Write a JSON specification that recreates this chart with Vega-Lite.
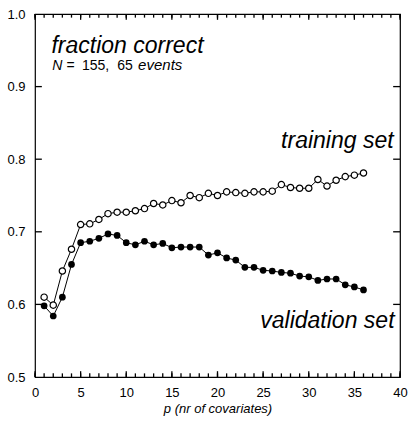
{
  "$schema": "https://vega.github.io/schema/vega-lite/v6.json",
  "width": 365,
  "height": 363,
  "autosize": {"type": "none"},
  "padding": {"left": 35, "top": 14, "right": 9, "bottom": 44},
  "background": "white",
  "config": {
    "view": {"stroke": "black", "strokeWidth": 1.2},
    "font": "Liberation Sans",
    "axis": {"domain": false, "grid": false, "labelFont": "Liberation Sans", "labelFontSize": 13, "labelColor": "black", "titleColor": "black"}
  },
  "datasets": {
    "train": [
      {"p": 1, "v": 0.610}, {"p": 2, "v": 0.599}, {"p": 3, "v": 0.646}, {"p": 4, "v": 0.676},
      {"p": 5, "v": 0.710}, {"p": 6, "v": 0.711}, {"p": 7, "v": 0.717}, {"p": 8, "v": 0.725},
      {"p": 9, "v": 0.727}, {"p": 10, "v": 0.727}, {"p": 11, "v": 0.729}, {"p": 12, "v": 0.732},
      {"p": 13, "v": 0.739}, {"p": 14, "v": 0.737}, {"p": 15, "v": 0.743}, {"p": 16, "v": 0.740},
      {"p": 17, "v": 0.750}, {"p": 18, "v": 0.747}, {"p": 19, "v": 0.753}, {"p": 20, "v": 0.750},
      {"p": 21, "v": 0.755}, {"p": 22, "v": 0.754}, {"p": 23, "v": 0.753}, {"p": 24, "v": 0.755},
      {"p": 25, "v": 0.755}, {"p": 26, "v": 0.756}, {"p": 27, "v": 0.765}, {"p": 28, "v": 0.761},
      {"p": 29, "v": 0.760}, {"p": 30, "v": 0.760}, {"p": 31, "v": 0.772}, {"p": 32, "v": 0.763},
      {"p": 33, "v": 0.771}, {"p": 34, "v": 0.776}, {"p": 35, "v": 0.778}, {"p": 36, "v": 0.781}
    ],
    "valid": [
      {"p": 1, "v": 0.598}, {"p": 2, "v": 0.584}, {"p": 3, "v": 0.610}, {"p": 4, "v": 0.655},
      {"p": 5, "v": 0.685}, {"p": 6, "v": 0.687}, {"p": 7, "v": 0.691}, {"p": 8, "v": 0.697},
      {"p": 9, "v": 0.695}, {"p": 10, "v": 0.685}, {"p": 11, "v": 0.682}, {"p": 12, "v": 0.687},
      {"p": 13, "v": 0.682}, {"p": 14, "v": 0.684}, {"p": 15, "v": 0.678}, {"p": 16, "v": 0.679},
      {"p": 17, "v": 0.679}, {"p": 18, "v": 0.679}, {"p": 19, "v": 0.668}, {"p": 20, "v": 0.671},
      {"p": 21, "v": 0.664}, {"p": 22, "v": 0.661}, {"p": 23, "v": 0.651}, {"p": 24, "v": 0.651},
      {"p": 25, "v": 0.647}, {"p": 26, "v": 0.646}, {"p": 27, "v": 0.644}, {"p": 28, "v": 0.643},
      {"p": 29, "v": 0.639}, {"p": 30, "v": 0.638}, {"p": 31, "v": 0.633}, {"p": 32, "v": 0.635},
      {"p": 33, "v": 0.635}, {"p": 34, "v": 0.627}, {"p": 35, "v": 0.624}, {"p": 36, "v": 0.620}
    ],
    "xticks": [
      {"t": 0}, {"t": 1}, {"t": 2}, {"t": 3}, {"t": 4}, {"t": 5}, {"t": 6}, {"t": 7}, {"t": 8}, {"t": 9},
      {"t": 10}, {"t": 11}, {"t": 12}, {"t": 13}, {"t": 14}, {"t": 15}, {"t": 16}, {"t": 17}, {"t": 18}, {"t": 19},
      {"t": 20}, {"t": 21}, {"t": 22}, {"t": 23}, {"t": 24}, {"t": 25}, {"t": 26}, {"t": 27}, {"t": 28}, {"t": 29},
      {"t": 30}, {"t": 31}, {"t": 32}, {"t": 33}, {"t": 34}, {"t": 35}, {"t": 36}, {"t": 37}, {"t": 38}, {"t": 39}, {"t": 40}
    ],
    "yticks": [{"t": 0.6}, {"t": 0.7}, {"t": 0.8}, {"t": 0.9}],
    "one": [{}]
  },
  "layer": [
    {
      "data": {"name": "train"},
      "mark": {"type": "line", "color": "black", "strokeWidth": 1},
      "encoding": {
        "x": {"field": "p", "type": "quantitative", "scale": {"domain": [0, 40], "nice": false, "zero": false},
              "axis": {"orient": "bottom", "values": [0, 5, 10, 15, 20, 25, 30, 35, 40], "ticks": false, "labelPadding": 9, "labelFlush": false, "title": "p (nr of covariates)", "titleFontStyle": "italic", "titleFontWeight": "normal", "titleFontSize": 13, "titleFont": "Liberation Sans", "titlePadding": 3}},
        "y": {"field": "v", "type": "quantitative", "scale": {"domain": [0.5, 1.0], "nice": false, "zero": false},
              "axis": {"orient": "left", "values": [0.5, 0.6, 0.7, 0.8, 0.9, 1.0], "format": ".1f", "ticks": false, "labelPadding": 10, "labelFlush": false, "title": null}}
      }
    },
    {
      "data": {"name": "xticks"},
      "mark": {"type": "rule", "color": "black", "strokeWidth": 1.3},
      "encoding": {
        "x": {"field": "t", "type": "quantitative"},
        "y": {"datum": 0.5, "type": "quantitative"},
        "y2": {"datum": 0.505}
      }
    },
    {
      "data": {"name": "xticks"},
      "mark": {"type": "rule", "color": "black", "strokeWidth": 1.3},
      "encoding": {
        "x": {"field": "t", "type": "quantitative"},
        "y": {"datum": 1.0, "type": "quantitative"},
        "y2": {"datum": 0.995}
      }
    },
    {
      "data": {"name": "xticks"},
      "transform": [{"filter": "datum.t % 5 === 0"}],
      "mark": {"type": "rule", "color": "black", "strokeWidth": 1.3},
      "encoding": {
        "x": {"field": "t", "type": "quantitative"},
        "y": {"datum": 0.5, "type": "quantitative"},
        "y2": {"datum": 0.508}
      }
    },
    {
      "data": {"name": "xticks"},
      "transform": [{"filter": "datum.t % 5 === 0"}],
      "mark": {"type": "rule", "color": "black", "strokeWidth": 1.3},
      "encoding": {
        "x": {"field": "t", "type": "quantitative"},
        "y": {"datum": 1.0, "type": "quantitative"},
        "y2": {"datum": 0.992}
      }
    },
    {
      "data": {"name": "yticks"},
      "mark": {"type": "rule", "color": "black", "strokeWidth": 1.3},
      "encoding": {
        "y": {"field": "t", "type": "quantitative"},
        "x": {"datum": 0, "type": "quantitative"},
        "x2": {"datum": 0.75}
      }
    },
    {
      "data": {"name": "yticks"},
      "mark": {"type": "rule", "color": "black", "strokeWidth": 1.3},
      "encoding": {
        "y": {"field": "t", "type": "quantitative"},
        "x": {"datum": 40, "type": "quantitative"},
        "x2": {"datum": 39.25}
      }
    },
    {
      "data": {"name": "train"},
      "mark": {"type": "point", "shape": "circle", "filled": true, "fill": "white", "stroke": "black", "strokeWidth": 1.2, "size": 40, "opacity": 1},
      "encoding": {
        "x": {"field": "p", "type": "quantitative"},
        "y": {"field": "v", "type": "quantitative"}
      }
    },
    {
      "data": {"name": "valid"},
      "mark": {"type": "line", "color": "black", "strokeWidth": 1},
      "encoding": {
        "x": {"field": "p", "type": "quantitative"},
        "y": {"field": "v", "type": "quantitative"}
      }
    },
    {
      "data": {"name": "valid"},
      "mark": {"type": "point", "shape": "circle", "filled": true, "color": "black", "size": 45, "opacity": 1},
      "encoding": {
        "x": {"field": "p", "type": "quantitative"},
        "y": {"field": "v", "type": "quantitative"}
      }
    },
    {
      "data": {"name": "one"},
      "mark": {"type": "text", "text": "fraction correct", "fontSize": 23, "fontStyle": "italic", "font": "Liberation Sans", "align": "left", "baseline": "alphabetic", "color": "black"},
      "encoding": {
        "x": {"datum": 1.8, "type": "quantitative"},
        "y": {"datum": 0.946, "type": "quantitative"}
      }
    },
    {
      "data": {"name": "one"},
      "mark": {"type": "text", "text": "N", "fontSize": 14, "fontStyle": "italic", "font": "Liberation Sans", "align": "left", "baseline": "alphabetic", "color": "black"},
      "encoding": {
        "x": {"datum": 1.9, "type": "quantitative"},
        "y": {"datum": 0.923, "type": "quantitative"}
      }
    },
    {
      "data": {"name": "one"},
      "mark": {"type": "text", "text": "=", "fontSize": 14, "font": "Liberation Sans", "align": "left", "baseline": "alphabetic", "color": "black"},
      "encoding": {
        "x": {"datum": 3.45, "type": "quantitative"},
        "y": {"datum": 0.923, "type": "quantitative"}
      }
    },
    {
      "data": {"name": "one"},
      "mark": {"type": "text", "text": "155,", "fontSize": 14, "font": "Liberation Sans", "align": "left", "baseline": "alphabetic", "color": "black"},
      "encoding": {
        "x": {"datum": 5.15, "type": "quantitative"},
        "y": {"datum": 0.923, "type": "quantitative"}
      }
    },
    {
      "data": {"name": "one"},
      "mark": {"type": "text", "text": "65", "fontSize": 14, "font": "Liberation Sans", "align": "left", "baseline": "alphabetic", "color": "black"},
      "encoding": {
        "x": {"datum": 9.0, "type": "quantitative"},
        "y": {"datum": 0.923, "type": "quantitative"}
      }
    },
    {
      "data": {"name": "one"},
      "mark": {"type": "text", "text": "events", "fontSize": 15, "fontStyle": "italic", "font": "Liberation Sans", "align": "left", "baseline": "alphabetic", "color": "black"},
      "encoding": {
        "x": {"datum": 11.3, "type": "quantitative"},
        "y": {"datum": 0.923, "type": "quantitative"}
      }
    },
    {
      "data": {"name": "one"},
      "mark": {"type": "text", "text": "training set", "fontSize": 23, "fontStyle": "italic", "font": "Liberation Sans", "align": "right", "baseline": "alphabetic", "color": "black"},
      "encoding": {
        "x": {"datum": 39.3, "type": "quantitative"},
        "y": {"datum": 0.816, "type": "quantitative"}
      }
    },
    {
      "data": {"name": "one"},
      "mark": {"type": "text", "text": "validation set", "fontSize": 23, "fontStyle": "italic", "font": "Liberation Sans", "align": "right", "baseline": "alphabetic", "color": "black"},
      "encoding": {
        "x": {"datum": 39.4, "type": "quantitative"},
        "y": {"datum": 0.567, "type": "quantitative"}
      }
    }
  ]
}
